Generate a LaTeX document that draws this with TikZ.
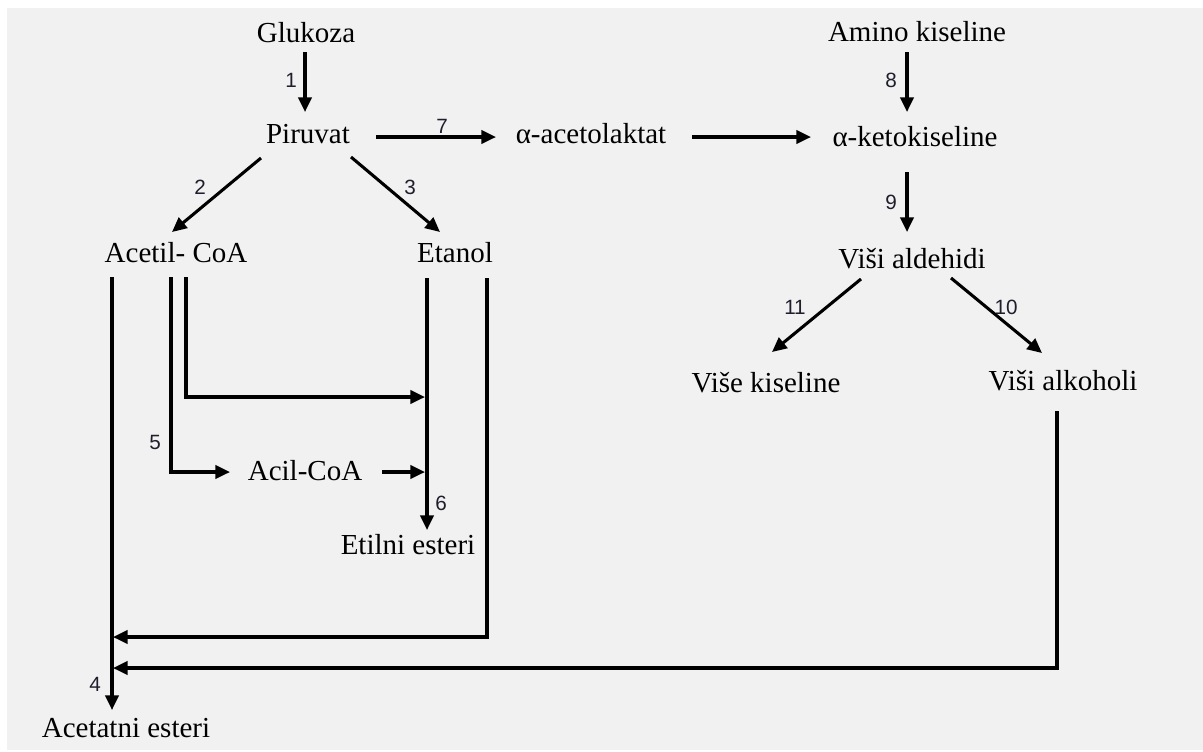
\documentclass[tikz,border=0pt]{standalone}
\usepackage{fontspec}
\setmainfont{Liberation Serif}
\newfontfamily\numfont{Liberation Sans}
\usetikzlibrary{arrows.meta}
\definecolor{bggray}{RGB}{241,241,241}
\definecolor{numcol}{RGB}{30,30,45}
\begin{document}
\begin{tikzpicture}[x=0.75pt,y=-0.75pt,
  lbl/.style={anchor=base,inner sep=0pt,font=\fontsize{21.75pt}{26pt}\selectfont},
  num/.style={inner sep=0pt,text=numcol,font=\numfont\fontsize{15.5pt}{18pt}\selectfont},
  arr/.style={line width=2.3pt,-{Triangle[length=11pt,width=10pt]}},
  ln/.style={line width=2.3pt}]
\useasboundingbox (0,0) rectangle (1203,751);
\fill[white] (0,0) rectangle (1203,751);
\fill[bggray] (7,8) rectangle (1203,750);

% text nodes
\node[lbl] (glu) at (306,42) {Glukoza};
\node[lbl] (pir) at (308,143) {Piruvat};
\node[lbl] (ace) at (591,143) {α-acetolaktat};
\node[lbl] (ami) at (917,41) {Amino kiseline};
\node[lbl] (ket) at (915,146) {α-ketokiseline};
\node[lbl] (ald) at (912,268) {Viši aldehidi};
\node[lbl] (kis) at (766,392) {Više kiseline};
\node[lbl] (alk) at (1063,390) {Viši alkoholi};
\node[lbl] (acoa) at (176,262) {Acetil- CoA};
\node[lbl] (eta) at (455,262) {Etanol};
\node[lbl] (acil) at (305,480) {Acil-CoA};
\node[lbl] (etil) at (408,554) {Etilni esteri};
\node[lbl] (acet) at (126,737) {Acetatni esteri};

% number labels
\node[num] (n1) at (291,80) {1};
\node[num] (n2) at (200,187) {2};
\node[num] (n3) at (410,187) {3};
\node[num] (n4) at (95,684) {4};
\node[num] (n5) at (155,442) {5};
\node[num] (n6) at (441,503) {6};
\node[num] (n7) at (442,126) {7};
\node[num] (n8) at (891,80) {8};
\node[num] (n9) at (891,202) {9};
\node[num] (n10) at (1006,307) {10};
\node[num] (n11) at (795,307) {11};

% connector end points
\coordinate (g1) at (305,52);   \coordinate (p1) at (305,112);
\coordinate (p7) at (376,137);  \coordinate (a7) at (496,137);
\coordinate (a8) at (692,137);  \coordinate (k8) at (811,137);
\coordinate (m1) at (907,52);   \coordinate (k1) at (907,112);
\coordinate (k2) at (907,172);  \coordinate (d1) at (907,232);
\coordinate (d11) at (861,279); \coordinate (s11) at (772,352);
\coordinate (d10) at (951,278); \coordinate (h10) at (1042,353);
\coordinate (p2) at (261,158);  \coordinate (c2) at (172,232);
\coordinate (p3) at (351,157);  \coordinate (e3) at (440,232);
\coordinate (c4) at (112,277);  \coordinate (t4) at (112,710);
\coordinate (c6a) at (186,277); \coordinate (j6a) at (186,397); \coordinate (t6a) at (425,397);
\coordinate (c5) at (171,277);  \coordinate (j5) at (171,472);  \coordinate (t5) at (230,472);
\coordinate (i6) at (382,472);  \coordinate (t6b) at (425,472);
\coordinate (e6) at (427,278);  \coordinate (t6) at (427,530);
\coordinate (e4) at (487,278);  \coordinate (j4a) at (487,637); \coordinate (t4a) at (113,637);
\coordinate (h4) at (1057,411); \coordinate (j4b) at (1057,668); \coordinate (t4b) at (113,668);

% connectors
\draw[arr] (g1) -- (p1);
\draw[arr] (p7) -- (a7);
\draw[arr] (a8) -- (k8);
\draw[arr] (m1) -- (k1);
\draw[arr] (k2) -- (d1);
\draw[arr] (d11) -- (s11);
\draw[arr] (d10) -- (h10);
\draw[arr] (p2) -- (c2);
\draw[arr] (p3) -- (e3);
\draw[arr] (c4) -- (t4);
\draw[arr] (c6a) -- (j6a) -- (t6a);
\draw[arr] (c5) -- (j5) -- (t5);
\draw[arr] (i6) -- (t6b);
\draw[arr] (e6) -- (t6);
\draw[arr] (e4) -- (j4a) -- (t4a);
\draw[arr] (h4) -- (j4b) -- (t4b);
\end{tikzpicture}
\end{document}
